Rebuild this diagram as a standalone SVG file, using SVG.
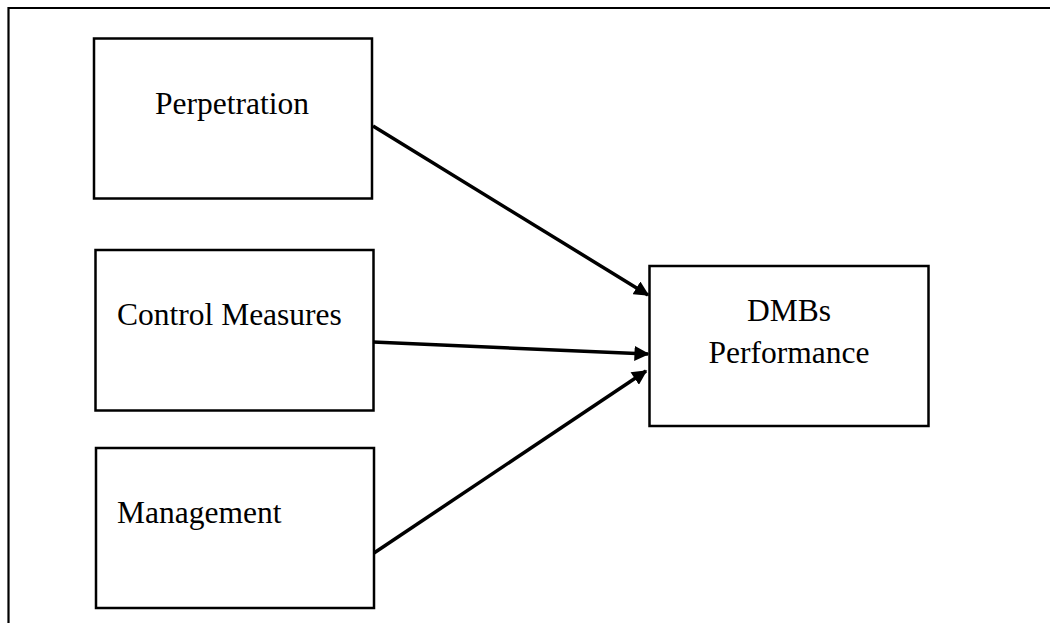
<svg xmlns="http://www.w3.org/2000/svg" width="1050" height="623" viewBox="0 0 1050 623">
<defs>
<style>
.box{fill:#fff;stroke:#000;stroke-width:2.5}
.lbl{font-family:"Liberation Serif","Times New Roman",serif;font-size:31.5px;fill:#000}
.edge{stroke:#000;stroke-width:3.5;fill:none;marker-end:url(#ah)}
</style>
<marker id="ah" viewBox="0 0 10 10" refX="9" refY="5" markerWidth="4.4" markerHeight="4.3" markerUnits="strokeWidth" orient="auto">
<path d="M0,0 L10,5 L0,10 z" fill="#000"/>
</marker>
</defs>
<rect width="1050" height="623" fill="#fff"/>
<path d="M8.5,623 V8 H1050" fill="none" stroke="#000" stroke-width="2.2"/>
<g id="perpetration">
<rect class="box" x="94" y="38.5" width="278" height="160"/>
<text class="lbl" x="232" y="114" text-anchor="middle">Perpetration</text>
</g>
<g id="control-measures">
<rect class="box" x="95.5" y="250" width="278" height="160.5"/>
<text class="lbl" x="117" y="325">Control Measures</text>
</g>
<g id="management">
<rect class="box" x="96" y="448" width="278" height="160"/>
<text class="lbl" x="117" y="523">Management</text>
</g>
<g id="dmbs-performance">
<rect class="box" x="649.5" y="266" width="279" height="160"/>
<text class="lbl" x="789" y="321" text-anchor="middle">DMBs</text>
<text class="lbl" x="789" y="363" text-anchor="middle">Performance</text>
</g>
<g id="connectors">
<line class="edge" x1="373" y1="126" x2="648" y2="295"/>
<line class="edge" x1="373" y1="342" x2="648" y2="354"/>
<line class="edge" x1="374" y1="553" x2="646" y2="371"/>
</g>
</svg>
